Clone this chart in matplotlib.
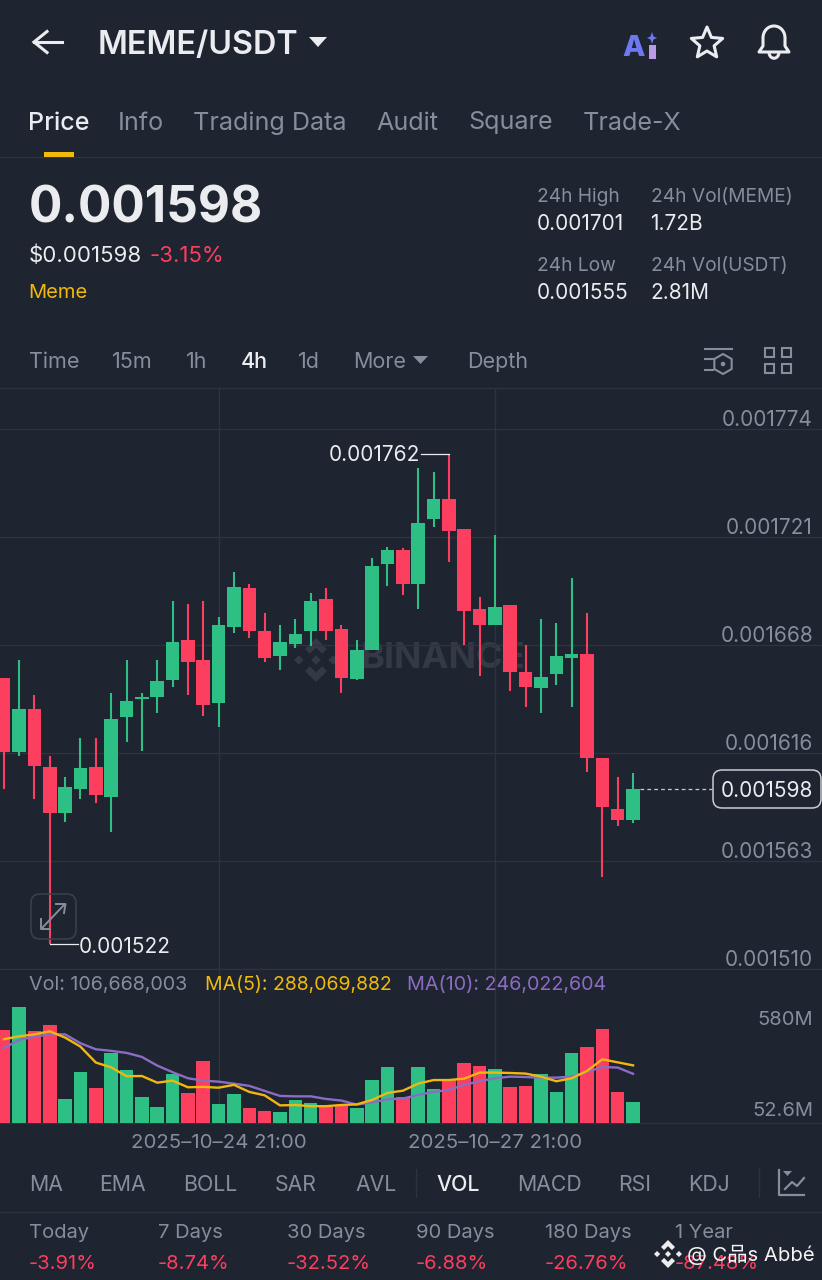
import numpy as np
import matplotlib
matplotlib.use("Agg")
import matplotlib.pyplot as plt
from matplotlib.patches import Polygon, Rectangle, FancyBboxPatch, PathPatch
from matplotlib.path import Path
from matplotlib.transforms import blended_transform_factory

# ---- data (prices in 1e-6 USDT, volumes in millions) ----
opens = [1652.1,1616.2,1637.0,1608.9,1586.1,1598.0,1608.9,1594.2,1633.1,1642.2,1643.1,1651.3,1670.8,1661.1,
         1640.0,1677.2,1696.1,1675.1,1663.0,1669.0,1675.1,1691.0,1676.1,1651.9,1666.1,1708.0,1715.0,1698.2,
         1730.0,1739.9,1725.1,1686.0,1678.2,1688.0,1655.1,1647.2,1654.1,1662.0,1664.0,1613.0,1588.1,1582.8]
closes = [1616.2,1637.0,1609.2,1586.1,1599.1,1608.1,1595.1,1632.1,1641.0,1643.0,1651.0,1670.0,1660.2,1639.1,
          1678.0,1696.9,1675.1,1662.0,1670.0,1673.9,1690.1,1675.1,1652.1,1666.1,1707.0,1715.0,1698.2,1728.0,
          1739.9,1724.1,1685.2,1678.2,1687.0,1655.2,1648.0,1652.9,1663.0,1664.0,1613.0,1589.1,1582.8,1598.0]
highs = [1652.1,1661.1,1644.0,1614.1,1604.0,1623.1,1623.1,1644.8,1661.1,1645.1,1661.1,1689.9,1688.3,1690.1,
         1681.9,1704.2,1698.1,1684.2,1678.0,1681.1,1694.0,1696.1,1678.0,1670.8,1711.1,1716.2,1716.0,1755.1,
         1753.0,1762.0,1725.1,1692.0,1722.0,1688.0,1668.3,1681.1,1679.2,1701.2,1684.0,1613.0,1604.0,1606.0]
lows = [1598.0,1614.1,1593.0,1522.0,1582.0,1593.0,1591.0,1577.1,1621.1,1616.7,1635.0,1648.0,1644.0,1633.8,
        1628.2,1674.1,1672.0,1660.2,1656.0,1667.1,1668.1,1670.8,1645.1,1651.3,1666.1,1697.2,1692.8,1686.1,
        1726.2,1709.1,1668.3,1653.1,1678.2,1646.1,1637.9,1635.0,1649.0,1637.9,1606.2,1554.8,1580.1,1581.2]
volumes = [462,580,457,487,119,254,174,348,267,133,83,245,152,308,94,144,76,63,55,114,99,
           83,86,76,214,282,129,278,169,215,302,287,268,179,186,247,156,350,378,467,154,106.668]
ma5 = [418,432,442,457,426,381,302,278,234,235,202,212,179,181,177,191,156,139,89,91,85,
       85,91,94,116,151,162,197,215,215,222,252,252,250,247,232,209,224,260,318,303,288]
ma10 = [373,414,431,442,442,398,368,360,350,330,287,254,224,212,207,197,186,161,136,134,134,
        121,113,93,104,119,123,141,156,166,191,209,224,232,230,227,227,232,255,280,277,246]
price_ticks = [1774, 1721, 1668, 1616, 1563, 1510]
price_tick_pos = [1773.9, 1721.1, 1668.3, 1615.5, 1562.8, 1510.0]
vol_ticks = [580, 52.6]
date_idx = [14, 32]
date_labels = ["2025\u201310\u201324 21:00", "2025\u201310\u201327 21:00"]
last_price = 1598.0
tabs = [("Price", 29), ("Info", 119), ("Trading Data", 194), ("Audit", 377), ("Square", 469), ("Trade-X", 584)]
intervals = [("Time", 29), ("15m", 112), ("1h", 186), ("4h", 241), ("1d", 298), ("More", 353), ("Depth", 467)]
indicators = [("MA", 29), ("EMA", 99), ("BOLL", 183), ("SAR", 275), ("AVL", 355), ("VOL", 436),
              ("MACD", 517), ("RSI", 618), ("KDJ", 688)]
periods = ["Today", "7 Days", "30 Days", "90 Days", "180 Days", "1 Year"]
period_chg = ["-3.91%", "-8.74%", "-32.52%", "-6.88%", "-26.76%", "-87.48%"]
period_x = [29, 158, 287, 416, 545, 675]

BG = "#1E2430"; GRID = "#2E343E"; GRAY = "#848E9C"; WHITE = "#EAECEF"
RED = "#FC3F5F"; GREEN = "#2EBF85"; YEL = "#F0B90B"; PUR = "#8B6CC4"
plt.rcParams["font.family"] = ["Inter", "Noto Sans CJK SC", "DejaVu Sans"]

W, H = 822, 1280
fig = plt.figure(figsize=(W/100, H/100), dpi=100, facecolor=BG)

def pix_axes(z):
    a = fig.add_axes([0, 0, 1, 1], zorder=z)
    a.set_xlim(0, W); a.set_ylim(H, 0); a.axis("off"); a.patch.set_alpha(0)
    return a

back = pix_axes(0)
front = pix_axes(5)

def T(x, y, s, size=14, color=GRAY, weight="normal", ha="left", ax=None):
    (ax or front).text(x-1, y+2, s, fontsize=size, color=color, fontweight=weight, ha=ha,
                       va="center", parse_math=False)

def axes_rect(top, bottom):
    return [0, 1-bottom/H, 1, (bottom-top)/H]

x0, dx = 3.7, 15.35
xlim = (-x0/dx, (W-x0)/dx)

# price axes: y pixel 388..969
ax = fig.add_axes(axes_rect(388, 969), zorder=1)
ax.patch.set_alpha(0)
ax.set_xlim(xlim)
ax.set_ylim(1510, 1510 + (969-388)*0.4889)
for s in ax.spines.values(): s.set_visible(False)
ax.set_yticks(price_tick_pos); ax.set_yticklabels([])
ax.set_xticks(date_idx); ax.set_xticklabels([])
ax.tick_params(length=0)
ax.grid(True, color=GRID, lw=1.0)
ax.set_axisbelow(True)

idx = np.arange(len(opens))
colors = [GREEN if c >= o else RED for o, c in zip(opens, closes)]
ax.vlines(idx, lows, highs, colors=colors, lw=1.5, zorder=2)
body_lo = np.minimum(opens, closes); body_h = np.abs(np.array(closes)-np.array(opens))
ax.bar(idx, body_h, bottom=body_lo, width=0.885, color=colors, zorder=3, linewidth=0)

tr = blended_transform_factory(ax.transAxes, ax.transData)
for pos, lab in zip(price_tick_pos, price_ticks):
    ax.annotate(f"{lab*1e-6:.6f}", xy=(813/W, pos), xycoords=tr, xytext=(0, 6.6), textcoords="offset points",
                ha="right", va="center", fontsize=15, color=GRAY, zorder=4)

# high / low markers
ih = int(np.argmax(highs)); il = int(np.argmin(lows))
ax.plot([ih-1.8, ih], [highs[ih]]*2, color=WHITE, lw=0.9, zorder=4)
ax.annotate(f"{highs[ih]*1e-6:.6f}", xy=(ih-1.85, highs[ih]), xytext=(0, -0.7), textcoords="offset points",
            color=WHITE, fontsize=15, ha="right", va="center", zorder=4)
ax.plot([il, il+1.85], [lows[il]]*2, color=WHITE, lw=0.9, zorder=4)
ax.annotate(f"{lows[il]*1e-6:.6f}", xy=(il+1.9, lows[il]), xytext=(0, -1.5), textcoords="offset points",
            color=WHITE, fontsize=15, ha="left", va="center", zorder=4)
# last price dashes
ax.hlines(last_price, len(opens)-1+0.45, (712-x0)/dx, color="#C8CCD2", lw=0.9, linestyles=(0, (3, 2.5)), zorder=2)

# volume axes: y pixel 969..1123.3
vx = fig.add_axes(axes_rect(969, 1123.3), zorder=1)
vx.patch.set_alpha(0)
vx.set_xlim(xlim)
vx.set_ylim(0, (1123.3-969)*4.97)
for s in vx.spines.values(): s.set_visible(False)
vx.set_yticks([])
vx.set_xticks(date_idx); vx.set_xticklabels(date_labels, fontsize=14.7, color=GRAY)
vx.tick_params(length=0, pad=7.5)
vx.grid(True, axis="x", color=GRID, lw=1.0)
vx.set_axisbelow(True)
vx.bar(idx, volumes, width=0.885, color=colors, linewidth=0, zorder=2)
vx.plot(idx, ma10, color=PUR, lw=1.7, zorder=3)
vx.plot(idx, ma5, color="#F2B70F", lw=1.7, zorder=4)
trv = blended_transform_factory(vx.transAxes, vx.transData)
for v, lab, off in zip(vol_ticks, ["580M", "52.6M"], [-9.5, 1.5]):
    vx.annotate(lab, xy=(813/W, v), xycoords=trv, xytext=(0, off), textcoords="offset points",
                ha="right", va="center", fontsize=14.5, color=GRAY, zorder=5, annotation_clip=False)

# ---- UI lines ----
for y in (157, 388, 969, 1123, 1212):
    back.plot([0, W], [y, y], color=GRID, lw=1.0)

def logo(a, cx, cy, r, color, z=1):
    pts = [[(0,-.22),(.22,0),(0,.22),(-.22,0)],
           [(-.78,-.22),(-.56,0),(-.78,.22),(-1,0)],
           [(.78,-.22),(1,0),(.78,.22),(.56,0)],
           [(0,-1),(.5,-.5),(.28,-.28),(0,-.56),(-.28,-.28),(-.5,-.5)],
           [(0,1),(.5,.5),(.28,.28),(0,.56),(-.28,.28),(-.5,.5)]]
    for p in pts:
        a.add_patch(Polygon([(cx+r*u, cy+r*v) for u, v in p], closed=True, fc=color, ec="none", zorder=z))

logo(back, 316, 660, 22, "#343A45")
T(362, 657, "BINANCE", 26, "#343A45", "bold", ax=back)

# header
front.plot([47, 34, 47], [31.5, 42, 52.5], color=WHITE, lw=2.2, solid_joinstyle="miter")
front.plot([34, 62], [42, 42], color=WHITE, lw=2.2)
T(99, 43, "MEME/USDT", 23.3, WHITE, "semibold")
front.add_patch(Polygon([(309, 37), (327, 37), (318, 47)], closed=True, fc=WHITE, ec="none"))
T(623, 46, "A", 21, "#6E78F2", "heavy")
front.add_patch(Rectangle((649, 45), 7, 14, fc="#B79BE8", ec="none"))
front.add_patch(Polygon([(652, 32), (653.5, 36.5), (657, 38), (653.5, 39.5), (652, 44), (650.5, 39.5), (647, 38), (650.5, 36.5)],
                        closed=True, fc="#6E78F2", ec="none"))
ang = np.deg2rad(np.arange(-90, 270, 36))
rad = np.where(np.arange(10) % 2 == 0, 16.5, 7.5)
front.add_patch(Polygon(np.c_[707+rad*np.cos(ang), 43.5+rad*np.sin(ang)], closed=True, fc="none", ec=WHITE, lw=2.2, joinstyle="round"))
bell = Path([(759, 52), (763, 46), (763, 38), (763, 31), (768, 26), (774, 26), (780, 26), (785, 31), (785, 38), (785, 46), (789, 52), (759, 52)],
            [Path.MOVETO, Path.LINETO, Path.LINETO, Path.CURVE4, Path.CURVE4, Path.CURVE4, Path.CURVE4, Path.CURVE4, Path.CURVE4, Path.LINETO, Path.LINETO, Path.CLOSEPOLY])
front.add_patch(PathPatch(bell, fc="none", ec=WHITE, lw=2.2, joinstyle="round"))
clap = Path([(769, 53), (770, 60), (778, 60), (779, 53)], [Path.MOVETO, Path.CURVE4, Path.CURVE4, Path.CURVE4])
front.add_patch(PathPatch(clap, fc="none", ec=WHITE, lw=2.2))

# tabs
for i, (s, x) in enumerate(tabs):
    T(x, 121, s, 18.1, WHITE if i == 0 else GRAY, "medium" if i == 0 else "normal")
front.add_patch(Rectangle((44, 152), 30, 5, fc=YEL, ec="none"))

# summary
T(29.5, 207, "0.001598", 35.7, WHITE, "bold")
T(29.5, 254, "$0.001598", 16, WHITE)
T(150.5, 254, "-3.15%", 16, RED)
T(29.5, 291, "Meme", 14.5, YEL)
for x, y, s, c in [(537.5, 195, "24h High", GRAY), (651.5, 195, "24h Vol(MEME)", GRAY), (537.5, 264, "24h Low", GRAY), (651.5, 264, "24h Vol(USDT)", GRAY)]:
    T(x, y, s, 13.8, c)
for x, y, s, c in [(537.5, 222, "0.001701", WHITE), (651.5, 222, "1.72B", WHITE), (537.5, 291, "0.001555", WHITE), (651.5, 291, "2.81M", WHITE)]:
    T(x, y, s, 15, c)

# interval row
for s, x in intervals:
    T(x+1, 360, s, 15.5, WHITE if s == "4h" else GRAY, "medium" if s == "4h" else "normal")
front.add_patch(Polygon([(413, 356), (428, 356), (420.5, 364)], closed=True, fc=GRAY, ec="none"))
front.plot([705, 732], [349, 349], color=GRAY, lw=1.5)
front.plot([705, 713], [359, 359], color=GRAY, lw=1.5)
front.plot([705, 713], [370, 370], color=GRAY, lw=1.5)
ang6 = np.deg2rad(np.arange(-90, 270, 60))
front.add_patch(Polygon(np.c_[723+10*np.cos(ang6), 364+10*np.sin(ang6)], closed=True, fc="none", ec=GRAY, lw=1.5))
front.add_patch(Polygon(np.c_[723+2.5*np.cos(ang6), 364+2.5*np.sin(ang6)], closed=True, fc=GRAY, ec="none"))
for (a, b) in [(765, 348), (782, 348), (765, 364), (782, 364)]:
    front.add_patch(Rectangle((a, b), 9, 9, fc="none", ec=GRAY, lw=1.5))

# expand button
front.add_patch(FancyBboxPatch((37, 900), 33, 33, boxstyle="round,pad=6,rounding_size=9", fc="none", ec="#3A404B", lw=1.2))
front.plot([42, 64], [928, 905], color=GRAY, lw=1.4)
front.plot([56, 65.5, 64], [904, 904, 913], color=GRAY, lw=1.4)
front.plot([41, 41, 50], [919, 929, 929], color=GRAY, lw=1.4)

# last-price box
front.add_patch(FancyBboxPatch((719, 776), 96, 26, boxstyle="round,pad=6,rounding_size=9", fc=BG, ec="#C8CCD2", lw=1.1, zorder=6))
front.text(813, 791, f"{last_price*1e-6:.6f}", fontsize=15, color=WHITE, ha="right", va="center", zorder=7)

# vol legend
T(30, 983, "Vol: 106,668,003", 14.2, GRAY)
T(206, 983, "MA(5): 288,069,882", 14, YEL)
T(408, 983, "MA(10): 246,022,604", 14.2, PUR)

# indicator row
for s, x in indicators:
    T(x+1, 1183, s, 15.3, WHITE if s == "VOL" else GRAY, "medium" if s == "VOL" else "normal")
front.plot([416, 416], [1169, 1197], color=GRID, lw=1.0)
front.plot([759, 759], [1168, 1197], color=GRID, lw=1.0)
front.plot([779, 779, 804], [1170, 1195, 1195], color=GRAY, lw=1.6)
front.plot([785, 792, 797, 804], [1189, 1182, 1186, 1178], color=GRAY, lw=1.6)
front.add_patch(Polygon([(783, 1171), (792, 1171), (787.5, 1176)], closed=True, fc=GRAY, ec="none"))

# performance row
for x, a, b in zip(period_x, periods, period_chg):
    T(x+1, 1231, a, 14.5, GRAY)
    T(x+1, 1262, b, 14.5, RED)

# screenshot watermark
logo(front, 668, 1254, 14, "#EDEDED", z=8)
front.text(687, 1255, "@ C\u54c1s Abb\u00e9", fontsize=14.6, color="#F4F4F4", ha="left", va="center", zorder=8)

fig.savefig("out.png", dpi=100, facecolor=BG)
